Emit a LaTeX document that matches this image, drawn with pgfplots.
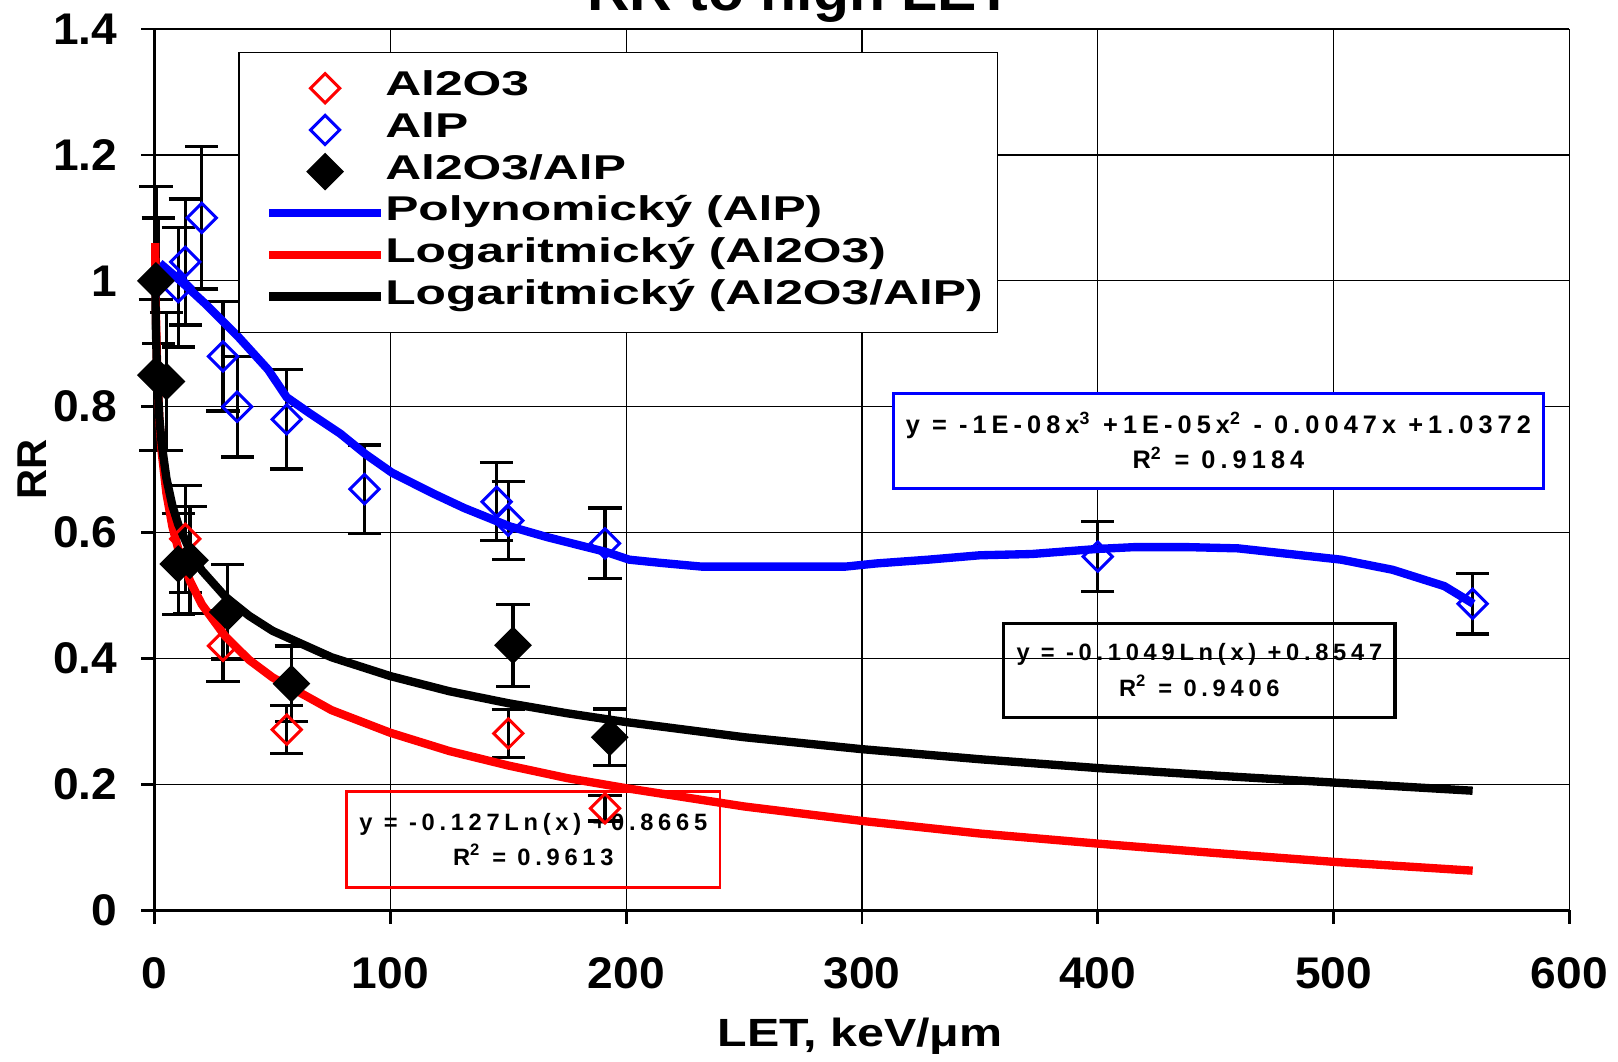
\documentclass[border=0pt]{standalone}
\usepackage{fontspec}
\usepackage{pgfplots}
\pgfplotsset{compat=1.18}
\setmainfont{Liberation Sans}
\newfontfamily\tickf{Liberation Sans}[FakeStretch=1.04]
\newfontfamily\legf{Liberation Sans}[FakeStretch=1.45]
\newfontfamily\labf{Liberation Sans}[FakeStretch=1.23]
\newfontfamily\eqf{Liberation Sans}[LetterSpace=20]
\definecolor{xred}{RGB}{255,0,0}
\definecolor{xblue}{RGB}{0,0,255}
\pgfplotsset{
  markleg/.style={legend image code/.code={\path (-3.3pt,0pt) (33.6pt,0pt);
    \draw[mark repeat=2,mark phase=2,##1] plot coordinates {(0pt,0pt) (16.8pt,0pt) (33.6pt,0pt)};}},
  lineleg/.style={legend image code/.code={\path (-3.3pt,0pt);
    \draw[##1] (0pt,0pt) -- (33.6pt,0pt);}},
}

\begin{document}
\begin{tikzpicture}
\begin{axis}[
  width=424.4pt, height=264.4pt, scale only axis,
  xmin=0, xmax=600, ymin=0, ymax=1.4,
  xtick={0,100,...,600}, ytick={0,0.2,...,1.4},
  axis x line*=bottom, axis y line*=left,
  axis line style={line width=0.8pt, -},
  tick align=outside, major tick length=4pt,
  tick style={line width=0.8pt, black},
  grid=major, grid style={black, line width=0.4pt},
  clip=false,
  /pgf/number format/assume math mode=true,
  ticklabel style={font=\tickf\bfseries\fontsize{13.3}{15}\selectfont},
  xticklabel style={inner sep=0pt, anchor=north},
  xticklabel shift=10pt,
  yticklabel style={inner sep=0pt, anchor=east},
  yticklabel shift=7pt,
  title={RR to high LET},
  every axis title/.style={at={(axis description cs:0.4562,1.0212)}, anchor=base,
    font=\tickf\bfseries\fontsize{17}{20}\selectfont},
  xlabel={LET, keV/μm},
  every axis x label/.style={at={(axis description cs:0.4986,-0.1543)}, anchor=base,
    font=\labf\bfseries\fontsize{11.8}{14}\selectfont},
  ylabel={RR},
  every axis y label/.style={at={(axis description cs:-0.0867,0.5)}, rotate=90, anchor=center,
    font=\bfseries\fontsize{12.5}{14}\selectfont},
  legend cell align=left,
  legend style={at={(rel axis cs:0.0591,0.9742)}, anchor=north west,
    draw=black, line width=0.4pt, fill=white,
    font=\legf\bfseries\fontsize{10.3}{12}\selectfont,
    inner xsep=4.5pt, inner ysep=4.5pt, row sep=0pt, column sep=0pt,
    nodes={inner sep=0pt, text height=8.5pt, text depth=4pt}},
  error bars/error bar style={black, line width=1pt},
  error bars/error mark options={black, line width=1pt, mark size=5pt, rotate=90},
]

% Al2O3
\addplot[only marks, mark=square, mark size=3.1pt, markleg,
  mark options={rotate=45, draw=xred, fill=white, line width=0.9pt},
  error bars/.cd, y dir=both, y explicit]
coordinates {
  (0.3,0.85) +- (0,0.12)
  (13,0.59) +- (0,0.085)
  (29,0.42) +- (0,0.056)
  (56,0.287) +- (0,0.038)
  (150,0.281) +- (0,0.038)
  (191,0.162) +- (0,0.02)
};
\addlegendentry{Al2O3}

% AlP
\addplot[only marks, mark=square, mark size=3.1pt, markleg,
  mark options={rotate=45, draw=xblue, fill=white, line width=0.9pt},
  error bars/.cd, y dir=both, y explicit]
coordinates {
  (1.5,1.0) +- (0,0.10)
  (10,0.99) +- (0,0.095)
  (13,1.03) +- (0,0.10)
  (20,1.10) +- (0,0.113)
  (29,0.88) +- (0,0.087)
  (35,0.80) +- (0,0.08)
  (56,0.78) +- (0,0.079)
  (89,0.669) +- (0,0.07)
  (145,0.649) +- (0,0.062)
  (150,0.619) +- (0,0.062)
  (191,0.583) +- (0,0.056)
  (400,0.562) +- (0,0.056)
  (559,0.487) +- (0,0.048)
};
\addlegendentry{AlP}

% Al2O3/AlP
\addplot[only marks, mark=square*, mark size=3.8pt, markleg,
  mark options={rotate=45, draw=black, fill=black, line width=0.4pt},
  error bars/.cd, y dir=both, y explicit]
coordinates {
  (0.5,1.0) +- (0,0.15)
  (0.5,0.85) +- (0,0.12)
  (5,0.84) +- (0,0.11)
  (10,0.55) +- (0,0.08)
  (15,0.556) +- (0,0.085)
  (31,0.474) +- (0,0.075)
  (58,0.36) +- (0,0.06)
  (152,0.421) +- (0,0.065)
  (193,0.275) +- (0,0.045)
};
\addlegendentry{Al2O3/AlP}

% trend lines
\addplot[xblue, line width=2.5pt, no markers, lineleg]
coordinates {
  (2.2,1.028) (10.9,1.000) (21.9,0.962) (35,0.913) (48.1,0.859) (56,0.815)
  (65.6,0.790) (78.8,0.757) (89.3,0.725) (100.7,0.695) (118.2,0.662)
  (131.3,0.639) (150.5,0.610) (166.3,0.593) (191.7,0.569) (201.3,0.557)
  (214.4,0.552) (232,0.546) (262.6,0.546) (293,0.546) (306,0.551)
  (328,0.557) (350,0.564) (372,0.566) (399.6,0.574) (415.8,0.577)
  (437.6,0.577) (459.5,0.575) (481.4,0.566) (503.3,0.557) (525,0.541)
  (547,0.515) (559.3,0.487)
};
\addlegendentry{Polynomický (AlP)}

\addplot[xred, line width=2.5pt, no markers, lineleg]
coordinates {
  (0.22,1.06) (0.5,0.955) (1,0.8665) (2,0.78) (3,0.727) (5,0.662)
  (7.5,0.61) (10,0.574) (15,0.523) (20,0.486) (30,0.435) (40,0.398)
  (50,0.37) (75,0.318) (100,0.282) (125,0.253) (150,0.23) (175,0.21)
  (200,0.194) (250,0.165) (300,0.142) (350,0.122) (400,0.106)
  (450,0.091) (500,0.077) (559,0.063)
};
\addlegendentry{Logaritmický (Al2O3)}

\addplot[black, line width=2.5pt, no markers, lineleg]
coordinates {
  (0.25,1.0) (0.5,0.927) (1,0.855) (2,0.782) (3,0.74) (5,0.686)
  (7.5,0.643) (10,0.613) (15,0.571) (20,0.54) (30,0.498) (40,0.468)
  (50,0.444) (75,0.402) (100,0.372) (125,0.348) (150,0.329) (175,0.313)
  (200,0.299) (250,0.275) (300,0.256) (350,0.24) (400,0.226)
  (450,0.214) (500,0.203) (559,0.19)
};
\addlegendentry{Logaritmický (Al2O3/AlP)}

\draw[line width=0.8pt] (rel axis cs:0,1) -- (rel axis cs:1,1);

\node[draw=xblue, line width=1pt, fill=white, minimum width=195pt, minimum height=28.5pt,
  align=center, font=\eqf\bfseries\fontsize{7.6}{10.5}\selectfont]
  at (axis cs:451.2,0.746)
  {y = -1E-08x\textsuperscript{3} +1E-05x\textsuperscript{2} - 0.0047x +1.0372\\R\textsuperscript{2} = 0.9184};
\node[draw=black, line width=1pt, minimum width=117.4pt, minimum height=28.2pt,
  align=center, font=\eqf\bfseries\fontsize{7.1}{10.7}\selectfont]
  at (axis cs:443.1,0.3813)
  {y = -0.1049Ln(x) +0.8547\\R\textsuperscript{2} = 0.9406};
\node[draw=xred, line width=0.8pt, minimum width=112pt, minimum height=28.8pt,
  align=center, font=\eqf\bfseries\fontsize{7.1}{10.5}\selectfont]
  at (axis cs:160.6,0.1123)
  {y = -0.127Ln(x) +0.8665\\R\textsuperscript{2} = 0.9613};
\end{axis}
\pgfresetboundingbox
\path (-46.4pt,-45.5pt) rectangle (439pt,273.1pt);
\end{tikzpicture}
\end{document}
